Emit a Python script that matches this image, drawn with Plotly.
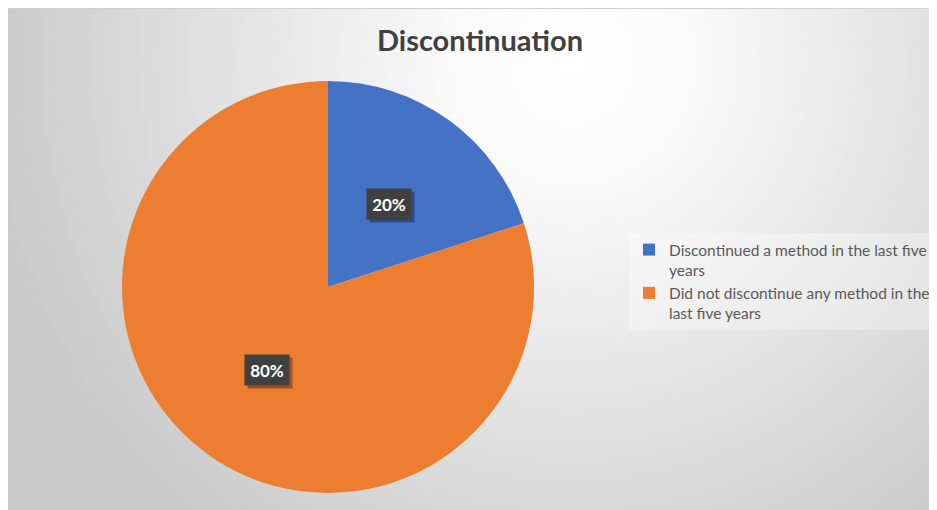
import base64
import math
import plotly.graph_objects as go

# ---- data ----
labels = ["Discontinued a method in the last five<br>years",
          "Did not discontinue any method in the<br>last five years"]
values = [20, 80]
colors = ["#4472C4", "#ED7D31"]
title_text = "Discontinuation"

# page has an 8px body margin; figure covers the remaining window
OFF = 8
W, H = 929, 502

def px_x(x):
    return (x - OFF) / W

def px_y(y):
    return 1 - (y - OFF) / H

# background gradient (radial) as an SVG image
svg = (
    '<svg xmlns="http://www.w3.org/2000/svg" width="929" height="502" '
    'viewBox="0 0 929 502" preserveAspectRatio="none">'
    '<defs><radialGradient id="g" gradientUnits="userSpaceOnUse" cx="565" cy="55" r="600">'
    '<stop offset="0" stop-color="#ffffff"/>'
    '<stop offset="0.18" stop-color="#fbfbfb"/>'
    '<stop offset="1" stop-color="#c9c9c9"/>'
    '</radialGradient></defs>'
    '<rect x="0" y="0" width="929" height="502" fill="url(#g)"/>'
    '<rect x="0" y="0" width="929" height="1" fill="#d0d0d0"/>'
    '</svg>'
)
src = "data:image/svg+xml;base64," + base64.b64encode(svg.encode()).decode()

# pie geometry (window pixels)
cx, cy, r = 328, 287, 206
dom_x = [px_x(cx - r), px_x(cx + r)]
dom_y = [px_y(cy + r), px_y(cy - r)]

fig = go.Figure()
fig.add_trace(go.Pie(
    labels=labels, values=values, sort=False, direction="clockwise", rotation=0,
    marker=dict(colors=colors, line=dict(width=0)),
    textinfo="none", hoverinfo="label+percent",
    domain=dict(x=dom_x, y=dom_y),
))

# data labels positioned at slice mid-angles
total = sum(values)
annotations = []
start = 0.0
for v in values:
    mid = (start + v / 2) / total * 2 * math.pi
    start += v
    lx = cx + 0.5 * r * math.sin(mid)
    ly = cy - 0.5 * r * math.cos(mid)
    txt = f"{round(v / total * 100)}%"
    common = dict(x=px_x(lx), y=px_y(ly), xref="paper", yref="paper",
                  xanchor="center", yanchor="middle",
                  showarrow=False, borderpad=4, width=36, height=22)
    annotations.append(dict(common, text="&nbsp;", xshift=3, yshift=-3,
                            bgcolor="rgba(0,0,0,0.33)",
                            font=dict(family="Lato", size=17, color="rgba(0,0,0,0)")))
    annotations.append(dict(common, text=txt, bgcolor="#404040",
                            font=dict(family="Lato", size=17, color="white", weight="bold")))

fig.update_layout(
    width=W, height=H,
    margin=dict(l=0, r=0, t=0, b=0),
    paper_bgcolor="white",
    title=dict(text=title_text, x=px_x(480), xanchor="center", y=px_y(41), yanchor="middle",
               font=dict(family="Lato", size=29, color="#404040", weight="bold")),
    images=[dict(source=src, xref="paper", yref="paper", x=0, y=1,
                 sizex=1, sizey=1, sizing="stretch", layer="below",
                 xanchor="left", yanchor="top")],
    legend=dict(x=px_x(629), xanchor="left", y=px_y(233), yanchor="top",
                font=dict(family="Lato", size=15.5, color="#595959"),
                valign="top",
                bgcolor="rgba(255,255,255,0.3)"),
    annotations=annotations,
    showlegend=True,
)

fig.write_html("out.html")
